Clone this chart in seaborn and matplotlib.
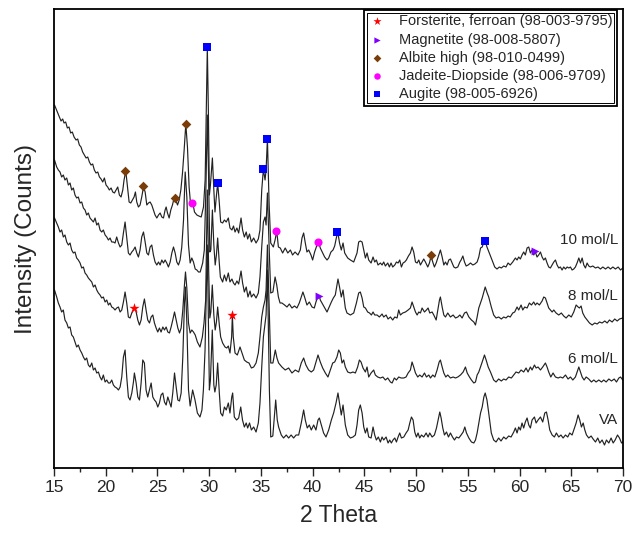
import matplotlib
matplotlib.use("Agg")
import matplotlib.pyplot as plt
import seaborn as sns
import pandas as pd
from matplotlib.patches import Rectangle
from matplotlib.ticker import MultipleLocator

sns.set_style("ticks")
plt.rcParams["font.family"] = ["Liberation Sans", "DejaVu Sans"]

# XRD patterns (intensity includes the stacking offset)
tt_10 = [15.05, 15.32, 15.52, 15.68, 15.84, 15.97, 16.13, 16.29, 16.45, 16.61,
         16.77, 16.94, 17.13, 17.29, 17.45, 17.61, 17.77, 17.94, 18.10, 18.26,
         18.42, 18.58, 18.74, 18.90, 19.06, 19.23, 19.39, 19.55, 19.71, 19.87,
         20.03, 20.19, 20.35, 20.52, 20.68, 20.84, 21.00, 21.16, 21.32, 21.48,
         21.65, 21.77, 21.94, 22.10, 22.26, 22.42, 22.58, 22.74, 22.87, 23.00,
         23.16, 23.32, 23.48, 23.65, 23.81, 23.97, 24.13, 24.29, 24.45, 24.61,
         24.77, 24.94, 25.10, 25.26, 25.42, 25.58, 25.74, 25.84, 25.97, 26.13,
         26.29, 26.45, 26.61, 26.77, 26.94, 27.10, 27.26, 27.42, 27.58, 27.74,
         27.90, 28.06, 28.19, 28.32, 28.42, 28.58, 28.81, 29.00, 29.23, 29.45,
         29.61, 29.72, 29.82, 29.92, 30.02, 30.12, 30.31, 30.45, 30.56, 30.66,
         30.82, 30.98, 31.11, 31.30, 31.47, 31.65, 31.85, 32.01, 32.20, 32.35,
         32.50, 32.68, 32.85, 33.08, 33.23, 33.40, 33.58, 33.72, 33.90, 34.08,
         34.30, 34.53, 34.75, 34.91, 35.08, 35.24, 35.40, 35.50, 35.63, 35.79,
         35.95, 36.20, 36.37, 36.53, 36.69, 36.87, 37.10, 37.35, 37.60, 37.85,
         38.06, 38.30, 38.58, 38.81, 38.97, 39.13, 39.29, 39.45, 39.62, 39.84,
         40.00, 40.19, 40.39, 40.58, 40.74, 40.97, 41.16, 41.39, 41.55, 41.77,
         41.97, 42.13, 42.29, 42.43, 42.60, 42.77, 42.94, 43.10, 43.39, 43.65,
         43.97, 44.29, 44.45, 44.61, 44.78, 44.94, 45.10, 45.26, 45.42, 45.65,
         45.84, 46.00, 46.16, 46.32, 46.55, 46.71, 46.87, 47.03, 47.26, 47.42,
         47.58, 47.74, 47.94, 48.10, 48.26, 48.42, 48.58, 48.74, 48.90, 49.06,
         49.26, 49.45, 49.61, 49.77, 49.94, 50.10, 50.26, 50.42, 50.58, 50.74,
         50.90, 51.13, 51.29, 51.45, 51.61, 51.77, 51.94, 52.10, 52.35, 52.52,
         52.68, 52.84, 53.00, 53.16, 53.32, 53.48, 53.65, 53.81, 54.03, 54.23,
         54.35, 54.52, 54.68, 54.84, 55.03, 55.26, 55.48, 55.68, 55.90, 56.06,
         56.23, 56.39, 56.55, 56.68, 56.85, 57.08, 57.34, 57.60, 57.82, 58.05,
         58.24, 58.47, 58.69, 58.89, 59.10, 59.34, 59.60, 59.76, 59.92, 60.08,
         60.24, 60.40, 60.56, 60.73, 60.89, 61.05, 61.21, 61.37, 61.53, 61.69,
         61.85, 62.02, 62.18, 62.34, 62.50, 62.66, 62.82, 62.98, 63.15, 63.31,
         63.47, 63.63, 63.79, 63.95, 64.11, 64.27, 64.44, 64.60, 64.76, 64.92,
         65.08, 65.24, 65.40, 65.56, 65.73, 65.89, 66.05, 66.21, 66.37, 66.53,
         66.69, 66.85, 67.08, 67.34, 67.58, 67.82, 68.05, 68.31, 68.56, 68.79,
         69.02, 69.27, 69.53, 69.76, 69.98]
int_10 = [363, 356, 351, 347, 349, 345, 346, 340, 341, 335,
          336, 331, 328, 329, 323, 321, 316, 313, 310, 311,
          306, 303, 304, 298, 295, 296, 291, 289, 286, 290,
          283, 281, 278, 280, 276, 275, 278, 281, 273, 271,
          278, 288, 297, 281, 266, 265, 268, 271, 276, 266,
          261, 263, 271, 281, 276, 263, 265, 266, 263, 258,
          253, 250, 253, 255, 251, 250, 258, 261, 255, 250,
          258, 263, 270, 268, 263, 268, 278, 295, 318, 344,
          321, 281, 265, 263, 265, 256, 253, 252, 251, 261,
          288, 358, 421, 358, 273, 283, 310, 278, 256, 268,
          285, 265, 246, 245, 248, 246, 250, 240, 238, 242,
          236, 240, 235, 250, 238, 231, 236, 229, 234, 226,
          230, 225, 229, 238, 278, 299, 288, 298, 329, 265,
          225, 221, 228, 237, 221, 220, 215, 220, 215, 218,
          213, 216, 213, 218, 230, 235, 225, 216, 218, 213,
          208, 216, 222, 226, 220, 215, 211, 208, 210, 216,
          218, 222, 230, 236, 225, 218, 225, 215, 210, 208,
          206, 215, 226, 227, 226, 218, 210, 215, 208, 205,
          211, 206, 208, 203, 205, 203, 206, 202, 205, 201,
          205, 201, 203, 206, 205, 208, 201, 205, 206, 208,
          212, 215, 221, 216, 206, 205, 208, 203, 206, 209,
          206, 201, 205, 212, 206, 201, 205, 210, 218, 211,
          203, 206, 203, 208, 209, 205, 201, 200, 201, 206,
          208, 212, 206, 202, 203, 205, 203, 204, 206, 211,
          220, 221, 226, 227, 221, 215, 208, 201, 199, 201,
          200, 202, 201, 205, 203, 206, 210, 208, 211, 209,
          213, 216, 213, 220, 221, 215, 218, 213, 216, 211,
          213, 216, 211, 208, 210, 205, 201, 200, 203, 206,
          208, 203, 200, 201, 198, 201, 199, 201, 200, 201,
          198, 199, 201, 205, 210, 205, 210, 203, 200, 205,
          202, 201, 202, 200, 201, 199, 201, 199, 201, 199,
          201, 199, 201, 198, 200]

tt_8 = [15.05, 15.26, 15.42, 15.58, 15.74, 15.90, 16.06, 16.23, 16.39, 16.55,
        16.71, 16.87, 17.03, 17.19, 17.35, 17.52, 17.68, 17.84, 18.00, 18.16,
        18.32, 18.48, 18.65, 18.81, 18.97, 19.13, 19.29, 19.45, 19.61, 19.77,
        19.94, 20.10, 20.26, 20.42, 20.58, 20.74, 20.90, 21.06, 21.23, 21.39,
        21.55, 21.71, 21.87, 22.03, 22.19, 22.35, 22.52, 22.68, 22.84, 23.00,
        23.16, 23.32, 23.48, 23.65, 23.81, 23.97, 24.13, 24.29, 24.45, 24.61,
        24.77, 24.94, 25.10, 25.26, 25.42, 25.58, 25.74, 25.90, 26.06, 26.23,
        26.39, 26.55, 26.71, 26.87, 27.03, 27.19, 27.35, 27.52, 27.68, 27.84,
        28.00, 28.16, 28.32, 28.48, 28.65, 28.81, 28.97, 29.13, 29.37, 29.53,
        29.68, 29.82, 29.94, 30.06, 30.16, 30.31, 30.45, 30.58, 30.70, 30.82,
        30.97, 31.08, 31.30, 31.47, 31.65, 31.85, 32.01, 32.20, 32.35, 32.50,
        32.68, 32.85, 33.08, 33.23, 33.40, 33.58, 33.75, 33.95, 34.08, 34.30,
        34.53, 34.75, 34.91, 35.08, 35.24, 35.40, 35.50, 35.63, 35.82, 35.95,
        36.16, 36.37, 36.53, 36.69, 36.85, 37.03, 37.29, 37.52, 37.75, 38.00,
        38.25, 38.48, 38.71, 38.90, 39.06, 39.22, 39.45, 39.68, 39.94, 40.16,
        40.32, 40.50, 40.65, 40.74, 40.90, 41.16, 41.39, 41.60, 41.81, 42.00,
        42.19, 42.45, 42.60, 42.77, 42.94, 43.16, 43.32, 43.65, 43.97, 44.23,
        44.45, 44.61, 44.78, 44.94, 45.10, 45.32, 45.50, 45.68, 45.84, 46.00,
        46.23, 46.45, 46.71, 46.87, 47.10, 47.29, 47.52, 47.74, 47.94, 48.16,
        48.32, 48.48, 48.71, 48.97, 49.23, 49.45, 49.61, 49.77, 49.94, 50.10,
        50.26, 50.42, 50.58, 50.81, 51.00, 51.16, 51.32, 51.55, 51.71, 51.94,
        52.10, 52.26, 52.35, 52.52, 52.68, 52.84, 53.06, 53.32, 53.58, 53.81,
        54.03, 54.23, 54.45, 54.68, 54.87, 55.10, 55.35, 55.58, 55.74, 55.90,
        56.06, 56.23, 56.39, 56.55, 56.68, 56.87, 57.02, 57.27, 57.50, 57.73,
        57.98, 58.24, 58.47, 58.69, 58.89, 59.10, 59.34, 59.53, 59.76, 59.92,
        60.15, 60.31, 60.50, 60.73, 60.95, 61.15, 61.37, 61.53, 61.69, 61.92,
        62.18, 62.34, 62.50, 62.66, 62.82, 62.98, 63.15, 63.31, 63.53, 63.79,
        64.04, 64.27, 64.50, 64.76, 65.00, 65.24, 65.47, 65.66, 65.79, 65.95,
        66.11, 66.31, 66.53, 66.76, 67.02, 67.27, 67.50, 67.73, 67.98, 68.24,
        68.47, 68.69, 68.95, 69.20, 69.44, 69.66, 69.98]
int_8 = [308, 301, 298, 296, 291, 293, 288, 290, 283, 285,
         278, 280, 273, 270, 271, 265, 266, 260, 258, 253,
         255, 250, 248, 246, 250, 243, 245, 238, 236, 238,
         233, 231, 228, 230, 226, 226, 225, 231, 225, 221,
         223, 235, 246, 231, 215, 213, 216, 218, 221, 215,
         211, 218, 231, 236, 226, 215, 213, 221, 223, 213,
         206, 203, 206, 203, 208, 205, 208, 205, 201, 206,
         215, 221, 215, 206, 203, 208, 221, 248, 296, 271,
         223, 205, 210, 206, 199, 198, 196, 196, 205, 218,
         278, 353, 293, 216, 218, 258, 223, 203, 213, 230,
         206, 191, 186, 193, 187, 195, 186, 189, 185, 183,
         187, 184, 197, 185, 176, 181, 171, 177, 171, 174,
         170, 175, 191, 221, 246, 251, 243, 275, 213, 175,
         176, 191, 183, 171, 165, 165, 163, 161, 164, 160,
         162, 160, 165, 171, 176, 171, 163, 166, 161, 160,
         166, 171, 172, 168, 165, 160, 156, 161, 166, 170,
         173, 189, 181, 171, 178, 160, 155, 153, 155, 165,
         175, 176, 170, 161, 160, 156, 155, 153, 156, 153,
         153, 151, 154, 151, 153, 149, 151, 148, 151, 150,
         158, 153, 155, 156, 158, 160, 166, 161, 156, 153,
         156, 155, 160, 156, 158, 160, 155, 156, 153, 148,
         158, 168, 171, 161, 153, 151, 155, 151, 153, 150,
         151, 153, 150, 155, 156, 151, 148, 146, 143, 151,
         160, 165, 170, 176, 181, 175, 171, 161, 153, 150,
         151, 149, 151, 150, 152, 151, 155, 156, 161, 158,
         163, 158, 161, 160, 165, 163, 166, 163, 165, 163,
         167, 171, 170, 165, 160, 158, 156, 158, 155, 153,
         155, 152, 150, 153, 151, 156, 163, 161, 160, 162,
         155, 151, 148, 145, 143, 145, 144, 146, 145, 147,
         145, 148, 146, 149, 147, 149, 150]

tt_6 = [15.05, 15.26, 15.42, 15.58, 15.74, 15.90, 16.06, 16.23, 16.39, 16.55,
        16.71, 16.87, 17.03, 17.19, 17.35, 17.52, 17.68, 17.84, 18.00, 18.16,
        18.32, 18.48, 18.65, 18.81, 18.97, 19.13, 19.29, 19.45, 19.61, 19.77,
        19.94, 20.10, 20.26, 20.42, 20.58, 20.74, 20.90, 21.06, 21.23, 21.39,
        21.55, 21.71, 21.87, 22.03, 22.19, 22.35, 22.52, 22.68, 22.77, 22.94,
        23.10, 23.26, 23.42, 23.58, 23.74, 23.90, 24.06, 24.23, 24.39, 24.55,
        24.71, 24.87, 25.03, 25.19, 25.35, 25.52, 25.68, 25.84, 26.00, 26.16,
        26.32, 26.48, 26.65, 26.81, 26.97, 27.13, 27.29, 27.45, 27.61, 27.71,
        27.84, 28.00, 28.16, 28.32, 28.48, 28.65, 28.86, 29.11, 29.34, 29.50,
        29.66, 29.82, 29.95, 30.06, 30.16, 30.30, 30.45, 30.58, 30.70, 30.82,
        30.98, 31.11, 31.30, 31.53, 31.70, 31.85, 32.01, 32.17, 32.24, 32.33,
        32.50, 32.72, 32.98, 33.17, 33.40, 33.63, 33.85, 34.08, 34.30, 34.53,
        34.75, 34.91, 35.08, 35.24, 35.40, 35.50, 35.63, 35.82, 35.95, 36.16,
        36.39, 36.55, 36.71, 37.03, 37.35, 37.68, 38.00, 38.32, 38.65, 38.90,
        39.13, 39.35, 39.61, 39.87, 40.10, 40.32, 40.52, 40.74, 40.97, 41.23,
        41.48, 41.71, 41.94, 42.13, 42.35, 42.52, 42.68, 42.84, 43.00, 43.16,
        43.39, 43.65, 43.90, 44.13, 44.35, 44.52, 44.68, 44.87, 45.10, 45.26,
        45.42, 45.65, 45.90, 46.06, 46.29, 46.55, 46.79, 47.03, 47.26, 47.52,
        47.68, 47.90, 48.10, 48.32, 48.55, 48.81, 49.03, 49.23, 49.45, 49.61,
        49.77, 49.94, 50.16, 50.35, 50.58, 50.81, 51.00, 51.23, 51.39, 51.61,
        51.81, 52.03, 52.23, 52.35, 52.52, 52.68, 52.87, 53.06, 53.32, 53.58,
        53.81, 54.03, 54.29, 54.55, 54.77, 54.94, 55.16, 55.35, 55.58, 55.74,
        55.90, 56.06, 56.23, 56.39, 56.61, 56.77, 56.97, 57.19, 57.38, 57.50,
        57.73, 57.98, 58.24, 58.47, 58.69, 58.95, 59.21, 59.44, 59.66, 59.92,
        60.15, 60.40, 60.63, 60.82, 61.05, 61.21, 61.44, 61.60, 61.79, 62.02,
        62.24, 62.50, 62.66, 62.82, 63.02, 63.24, 63.47, 63.73, 63.95, 64.18,
        64.44, 64.69, 64.92, 65.15, 65.40, 65.56, 65.73, 65.89, 66.05, 66.24,
        66.44, 66.69, 66.95, 67.18, 67.40, 67.66, 67.92, 68.14, 68.37, 68.63,
        68.89, 69.15, 69.37, 69.60, 69.76, 69.98]
int_6 = [250, 245, 241, 236, 238, 231, 233, 226, 223, 225,
         218, 215, 216, 210, 208, 205, 200, 201, 195, 193,
         190, 188, 186, 181, 183, 178, 175, 173, 170, 171,
         166, 168, 163, 165, 161, 160, 158, 160, 161, 156,
         158, 166, 176, 165, 151, 150, 155, 158, 161, 156,
         148, 143, 148, 161, 169, 158, 148, 145, 151, 153,
         145, 140, 136, 140, 136, 141, 138, 141, 136, 135,
         141, 148, 156, 148, 140, 135, 140, 158, 183, 196,
         180, 145, 135, 138, 136, 133, 126, 121, 131, 145,
         168, 278, 198, 150, 156, 183, 153, 138, 146, 161,
         143, 131, 125, 121, 120, 122, 115, 131, 153, 131,
         115, 113, 121, 115, 108, 106, 105, 100, 101, 105,
         115, 131, 151, 161, 168, 178, 223, 152, 105, 105,
         118, 110, 105, 101, 98, 100, 95, 98, 96, 105,
         110, 103, 98, 96, 98, 106, 113, 106, 100, 95,
         91, 98, 105, 106, 111, 118, 115, 105, 108, 101,
         96, 95, 96, 95, 101, 108, 106, 100, 96, 101,
         91, 95, 98, 93, 91, 90, 91, 88, 90, 86,
         85, 90, 88, 91, 90, 90, 91, 95, 98, 106,
         101, 95, 91, 93, 91, 95, 91, 93, 90, 93,
         91, 98, 106, 108, 101, 95, 91, 93, 90, 91,
         90, 91, 93, 96, 101, 95, 91, 88, 85, 86,
         93, 96, 101, 106, 113, 108, 101, 96, 91, 88,
         86, 89, 87, 89, 88, 91, 90, 93, 96, 95,
         98, 96, 100, 96, 101, 98, 103, 100, 101, 98,
         101, 105, 101, 96, 91, 95, 91, 90, 91, 90,
         93, 89, 91, 88, 91, 96, 101, 96, 91, 88,
         91, 89, 86, 88, 86, 88, 86, 88, 86, 89,
         87, 89, 86, 90, 91, 88]

tt_va = [15.05, 15.26, 15.42, 15.58, 15.74, 15.90, 16.06, 16.23, 16.39, 16.55,
         16.71, 16.87, 17.03, 17.19, 17.35, 17.52, 17.68, 17.84, 18.00, 18.16,
         18.32, 18.48, 18.65, 18.81, 18.97, 19.13, 19.29, 19.45, 19.61, 19.77,
         19.94, 20.10, 20.26, 20.42, 20.58, 20.74, 20.90, 21.06, 21.23, 21.39,
         21.55, 21.71, 21.87, 22.03, 22.19, 22.35, 22.52, 22.68, 22.77, 22.94,
         23.10, 23.26, 23.42, 23.58, 23.74, 23.90, 24.06, 24.23, 24.39, 24.55,
         24.71, 24.87, 25.03, 25.19, 25.35, 25.52, 25.68, 25.84, 26.00, 26.16,
         26.32, 26.48, 26.65, 26.81, 26.97, 27.13, 27.29, 27.45, 27.61, 27.71,
         27.84, 28.00, 28.16, 28.40, 28.63, 28.86, 29.11, 29.30, 29.44, 29.60,
         29.82, 29.95, 30.02, 30.12, 30.30, 30.45, 30.55, 30.68, 30.82, 30.98,
         31.11, 31.30, 31.47, 31.65, 31.85, 32.01, 32.18, 32.27, 32.43, 32.65,
         32.85, 33.05, 33.22, 33.40, 33.58, 33.72, 33.90, 34.08, 34.30, 34.53,
         34.75, 34.91, 35.08, 35.24, 35.40, 35.50, 35.63, 35.82, 35.95, 36.15,
         36.43, 36.58, 36.71, 36.97, 37.19, 37.45, 37.68, 37.92, 38.16, 38.40,
         38.65, 38.90, 39.13, 39.29, 39.48, 39.68, 39.87, 40.10, 40.32, 40.52,
         40.65, 40.84, 41.06, 41.29, 41.55, 41.81, 42.03, 42.26, 42.45, 42.60,
         42.77, 42.94, 43.16, 43.39, 43.65, 43.90, 44.13, 44.29, 44.45, 44.61,
         44.78, 44.94, 45.10, 45.26, 45.42, 45.65, 45.84, 46.00, 46.16, 46.35,
         46.55, 46.71, 46.87, 47.10, 47.29, 47.45, 47.61, 47.77, 47.94, 48.10,
         48.26, 48.42, 48.58, 48.81, 49.03, 49.23, 49.39, 49.55, 49.71, 49.87,
         50.03, 50.19, 50.35, 50.52, 50.74, 50.97, 51.16, 51.32, 51.55, 51.77,
         51.97, 52.13, 52.29, 52.42, 52.58, 52.74, 52.94, 53.13, 53.32, 53.52,
         53.71, 53.90, 54.13, 54.35, 54.55, 54.71, 54.87, 55.10, 55.35, 55.58,
         55.74, 55.90, 56.06, 56.23, 56.39, 56.55, 56.68, 56.85, 57.02, 57.27,
         57.50, 57.73, 57.98, 58.21, 58.47, 58.69, 58.95, 59.18, 59.44, 59.60,
         59.76, 59.92, 60.08, 60.24, 60.40, 60.56, 60.73, 60.89, 61.05, 61.21,
         61.44, 61.60, 61.79, 62.02, 62.24, 62.44, 62.60, 62.76, 62.92, 63.15,
         63.37, 63.56, 63.79, 64.00, 64.21, 64.44, 64.66, 64.85, 65.08, 65.24,
         65.47, 65.66, 65.82, 65.98, 66.15, 66.31, 66.47, 66.69, 66.92, 67.11,
         67.34, 67.56, 67.76, 67.98, 68.21, 68.40, 68.63, 68.85, 69.05, 69.24,
         69.47, 69.66, 69.86, 69.98]
int_va = [178, 171, 165, 161, 156, 158, 148, 145, 140, 141,
          133, 131, 126, 121, 123, 118, 115, 111, 108, 110,
          103, 101, 105, 98, 100, 95, 96, 91, 88, 93,
          86, 88, 85, 85, 88, 83, 81, 80, 78, 81,
          91, 111, 118, 91, 71, 68, 75, 86, 95, 85,
          71, 68, 85, 108, 105, 78, 71, 78, 85, 71,
          68, 66, 61, 65, 73, 75, 66, 63, 71, 66,
          61, 75, 95, 81, 68, 67, 75, 111, 165, 181,
          145, 78, 62, 78, 68, 55, 51, 58, 78, 118,
          223, 128, 78, 88, 138, 83, 76, 83, 105, 75,
          55, 52, 61, 58, 65, 55, 71, 75, 51, 48,
          50, 61, 48, 41, 45, 40, 45, 38, 41, 36,
          45, 65, 101, 131, 145, 153, 198, 78, 31, 32,
          68, 48, 41, 33, 30, 33, 30, 33, 30, 33,
          33, 45, 58, 48, 40, 43, 38, 43, 38, 48,
          50, 43, 35, 31, 38, 48, 55, 65, 75, 65,
          53, 63, 43, 33, 30, 31, 33, 43, 58, 63,
          55, 41, 35, 40, 31, 30, 41, 33, 28, 31,
          26, 31, 28, 31, 25, 28, 25, 28, 30, 26,
          31, 35, 30, 31, 35, 38, 45, 51, 48, 36,
          31, 35, 30, 33, 31, 35, 31, 35, 31, 33,
          40, 48, 56, 50, 40, 33, 36, 31, 35, 31,
          28, 31, 30, 33, 36, 41, 35, 30, 26, 25,
          28, 35, 45, 55, 61, 71, 75, 68, 55, 35,
          28, 26, 30, 27, 31, 29, 32, 31, 36, 40,
          35, 41, 38, 45, 40, 46, 50, 43, 40, 48,
          51, 45, 48, 51, 46, 55, 56, 48, 38, 33,
          31, 35, 31, 33, 30, 33, 31, 35, 33, 38,
          45, 53, 48, 41, 45, 38, 33, 30, 32, 29,
          26, 30, 25, 28, 23, 28, 25, 30, 25, 28,
          33, 30, 25, 26]

sample_names = ["10 mol/L", "8 mol/L", "6 mol/L", "VA"]
label_levels = [228, 172, 109, 48]

# phase identification marks (2theta, intensity at the tagged peak)
forsterite_tt = [22.70, 32.25]
forsterite_int = [160, 153]
magnetite_tt = [40.62, 61.50]
magnetite_int = [172, 217]
albite_tt = [21.90, 23.62, 26.65, 27.74, 51.45]
albite_int = [297, 282, 270, 344, 213]
jadeite_tt = [28.36, 36.50, 40.55]
jadeite_int = [265, 237, 226]
augite_tt = [29.80, 30.84, 35.22, 35.61, 42.40, 56.62]
augite_int = [421, 285, 299, 329, 236, 227]

phase_names = ["Forsterite, ferroan (98-003-9795)", "Magnetite (98-008-5807)",
               "Albite high (98-010-0499)", "Jadeite-Diopside (98-006-9709)",
               "Augite (98-005-6926)"]

fig = plt.figure(figsize=(6.44, 5.36), dpi=100)
ax = fig.add_axes([54 / 644, 68 / 536, 569 / 644, 459 / 536])

for tt, inten in [(tt_10, int_10), (tt_8, int_8), (tt_6, int_6), (tt_va, int_va)]:
    df = pd.DataFrame({"two_theta": tt, "counts": inten})
    sns.lineplot(data=df, x="two_theta", y="counts", color="#222222", linewidth=0.85,
                 sort=False, estimator=None, ax=ax)

phase_tt = [forsterite_tt, magnetite_tt, albite_tt, jadeite_tt, augite_tt]
phase_int = [forsterite_int, magnetite_int, albite_int, jadeite_int, augite_int]
markers = ["*", ">", "D", "o", "s"]
colors = ["#ff0000", "#8000ff", "#7a3c08", "#ff00ff", "#0000ff"]
sizes = [60, 32, 24, 34, 28]
for name, tt, inten, m, c, s in zip(phase_names, phase_tt, phase_int, markers, colors, sizes):
    sns.scatterplot(x=tt, y=inten, marker=m, color=c, s=s, linewidth=0,
                    label=name, ax=ax, zorder=3)

for name, lev in zip(sample_names, label_levels):
    ax.text(69.55, lev, name, ha="right", va="center", fontsize=11)

ax.set_xlim(15, 70)
ax.set_ylim(0, 459)
ax.xaxis.set_major_locator(MultipleLocator(5))
ax.xaxis.set_minor_locator(MultipleLocator(2.5))
ax.tick_params(axis="x", which="major", direction="out", length=6, width=1.0,
               labelsize=12.5, pad=3)
ax.tick_params(axis="x", which="minor", direction="out", length=3, width=1.0)
ax.set_yticks([])
for sp in ax.spines.values():
    sp.set_visible(True)
    sp.set_linewidth(1.3)
    sp.set_color("black")

ax.set_xlabel("2 Theta", fontsize=16.5, labelpad=6)
ax.set_ylabel("Intensity (Counts)", fontsize=17.5, labelpad=12)

leg = ax.legend(loc="upper right", bbox_to_anchor=(0.9895, 0.998), borderaxespad=0,
                fontsize=10.5, frameon=True, fancybox=False, edgecolor="black",
                framealpha=1, handlelength=1.2, handletextpad=0.9, borderpad=0.3,
                labelspacing=0.29, markerscale=0.8)
leg.get_frame().set_linewidth(1.3)

# double border around the legend box
fig.canvas.draw()
bb = leg.get_window_extent()
inv = fig.transFigure.inverted()
(x0, y0), (x1, y1) = inv.transform([(bb.x0 + 3, bb.y0 + 3), (bb.x1 - 3, bb.y1 - 3)])
fig.add_artist(Rectangle((x0, y0), x1 - x0, y1 - y0, transform=fig.transFigure,
                         fill=False, edgecolor="black", linewidth=0.7, zorder=10))

fig.savefig("out.png", dpi=100)
